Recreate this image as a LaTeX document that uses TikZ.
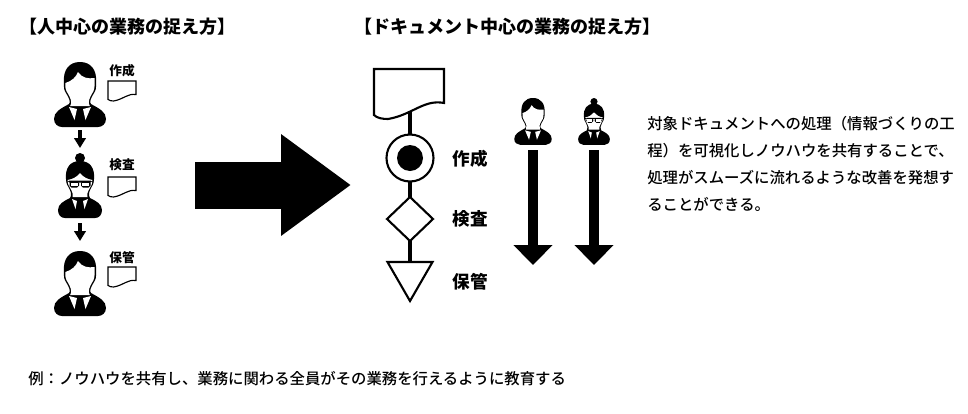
\documentclass[tikz,border=0pt]{standalone}
\usepackage{fontspec}
\setmainfont{Noto Sans CJK JP}
\newfontfamily\midfont{Noto Sans CJK JP Medium}
\usepackage{tikz}
\usetikzlibrary{positioning, arrows.meta, shapes.geometric}
\tikzset{
 title/.style={font=\fontsize{10.25pt}{12pt}\bfseries, anchor=west, inner sep=0pt},
 smalltag/.style={font=\fontsize{7.2pt}{9pt}\bfseries, inner sep=0pt},
 steptag/.style={font=\fontsize{10pt}{12pt}\bfseries, inner sep=0pt},
 bodytext/.style={font=\fontsize{8.75pt}{15.3pt}\selectfont\midfont, anchor=north west, align=left, inner sep=0pt},
 flowline/.style={line width=2.6pt},
 flowshape/.style={draw, line width=1.2pt, fill=white, inner sep=0pt, outer sep=0pt},
 smallarrow/.style={line width=2.7pt, -{Triangle[length=.2cm,width=.23cm]}},
 longarrow/.style={line width=6.2pt, -{Triangle[length=.4cm,width=.76cm]}},
 bigarrow/.style={line width=.94cm, -{Triangle[length=1.4cm,width=1.94cm]}},
 sheet/.pic={
  \path[fill=white, draw=black, line width=\pgfkeysvalueof{/tikz/sheetline}]
   (0,0) -- (70,0) -- (70,34) .. controls (50,30) and (38,46) .. (14,50) .. controls (8,50) and (3,49) .. (0,46) -- cycle;
 },
 sheetline/.initial=1.2pt,
 manicon/.pic={
  \fill (0,0) .. controls (11,0) and (17,8) .. (16,20) .. controls (16.5,26) and (15.5,29) .. (14,31)
   .. controls (11,36) and (9,40) .. (11,42) .. controls (20,47) and (26,50) .. (26,57)
   .. controls (26,62) and (22,65) .. (18,65) -- (-18,65) .. controls (-22,65) and (-26,62) .. (-26,57)
   .. controls (-26,50) and (-20,47) .. (-11,42) .. controls (-9,40) and (-11,36) .. (-14,31)
   .. controls (-15.5,29) and (-16.5,26) .. (-16,20) .. controls (-17,8) and (-11,0) .. (0,0) -- cycle;
  \fill[white] (-14.6,21) .. controls (-8,19) and (-4,15) .. (-2,10) .. controls (2,16) and (8,17) .. (14.6,16)
   .. controls (15.2,25) and (14,29) .. (12.4,31) .. controls (9.5,36) and (7.5,40) .. (9.8,44)
   -- (-9.8,44) .. controls (-7.5,40) and (-9.5,36) .. (-12.4,31) .. controls (-14,29) and (-15.2,25) .. (-14.6,21) -- cycle;
  \fill[white] (-11,45) -- (-3,47) -- (-5.5,58) -- cycle;
  \fill[white] (11,45) -- (3,47) -- (5.5,58) -- cycle;
 },
 womanicon/.pic={
  \fill (0,5) circle [radius=5];
  \fill (0,8) .. controls (10,8) and (15,15) .. (14,26) .. controls (14,31) and (12,33) .. (11,35)
   .. controls (9,39) and (8,42) .. (10,45) .. controls (16,48) and (22,51) .. (22,57)
   .. controls (22,62) and (19,65) .. (15,65) -- (-15,65) .. controls (-19,65) and (-22,62) .. (-22,57)
   .. controls (-22,51) and (-16,48) .. (-10,45) .. controls (-8,42) and (-9,39) .. (-11,35)
   .. controls (-12,33) and (-14,31) .. (-14,26) .. controls (-15,15) and (-10,8) .. (0,8) -- cycle;
  \fill[white] (-12.4,27) .. controls (-7,26) and (-3,24) .. (0,20) .. controls (3,24) and (7,26) .. (12.4,27)
   .. controls (12.4,31) and (11,33) .. (9.8,35) .. controls (7.5,39) and (6.5,42) .. (7.5,44)
   -- (-7.5,44) .. controls (-6.5,42) and (-7.5,39) .. (-9.8,35) .. controls (-11,33) and (-12.4,31) .. (-12.4,27) -- cycle;
  \fill[rounded corners=1] (-12.5,27.5) rectangle (12.5,29.5);
  \fill[rounded corners=1] (-10.5,28) rectangle (-1,34.5);
  \fill[rounded corners=1] (1,28) rectangle (10.5,34.5);
  \fill[white] (-9.2,29.5) rectangle (-2.2,33.2);
  \fill[white] (2.2,29.5) rectangle (9.2,33.2);
  \fill[white] (-8,46) -- (-3,48) -- (-4.5,56) -- cycle;
  \fill[white] (8,46) -- (3,48) -- (4.5,56) -- cycle;
 },
 necktie/.pic={
  \fill (-3,46) -- (3,46) -- (1.8,50) -- (3.2,60) -- (0,64) -- (-3.2,60) -- (-1.8,50) -- cycle;
 },
}

\begin{document}
\begin{tikzpicture}[x=0.02cm,y=-0.02cm]
 \useasboundingbox (0,0) rectangle (968,413);
 % left column
 \node[title] (titlePerson) at (19,27) {【人中心の業務の捉え方】};
 \pic at (80,62) {manicon};
 \pic at (80,62) {necktie};
 \pic at (80,153) {womanicon};
 \pic at (80,153) {necktie};
 \pic at (80,251) {manicon};
 \pic at (80,251) {necktie};
 \pic[scale=0.4, sheetline=.65pt] at (108,81) {sheet};
 \pic[scale=0.4, sheetline=.65pt] at (108,177) {sheet};
 \pic[scale=0.4, sheetline=.65pt] at (108,267) {sheet};
 \node[smalltag] (tagMake) at (122,71) {作成};
 \node[smalltag] (tagCheck) at (122,165) {検査};
 \node[smalltag] (tagKeep) at (122,258) {保管};
 \coordinate (downAtop) at (80,130);
 \coordinate (downAend) at (80,148);
 \coordinate (downBtop) at (80,223);
 \coordinate (downBend) at (80,241);
 \draw[smallarrow] (downAtop) -- (downAend);
 \draw[smallarrow] (downBtop) -- (downBend);
 % big arrow
 \coordinate (bigStart) at (195,185);
 \coordinate (bigEnd) at (351,185);
 \draw[bigarrow] (bigStart) -- (bigEnd);
 % flow
 \node[title] (titleDoc) at (354,27) {【ドキュメント中心の業務の捉え方】};
 \coordinate (sheetEnd) at (410,105);
 \node[flowshape, circle, minimum size=.94cm] (make) at (410,158) {};
 \node[flowshape, diamond, minimum width=.92cm, minimum height=.88cm] (check) at (410,219) {};
 \node[flowshape, isosceles triangle, shape border rotate=-90, isosceles triangle stretches,
  minimum width=.9cm, minimum height=.78cm, anchor=apex] (keep) at (410,301) {};
 \draw[flowline] (sheetEnd) -- (make);
 \draw[flowline] (make) -- (check);
 \draw[flowline] (check) -- (keep);
 \pic at (374,69) {sheet};
 \fill (make) circle [radius=13];
 \node[steptag] (stepMake) at (470,159) {作成};
 \node[steptag] (stepCheck) at (470,219) {検査};
 \node[steptag] (stepKeep) at (470,282) {保管};
 % people on the right
 \pic[scale=0.72] at (533,98) {manicon};
 \pic[scale=0.72] at (533,98) {necktie};
 \pic[scale=0.72] at (594,98) {womanicon};
 \pic[scale=0.72] at (594,98) {necktie};
 \coordinate (manTop) at (533,150);
 \coordinate (manEnd) at (533,265);
 \coordinate (womanTop) at (594,150);
 \coordinate (womanEnd) at (594,265);
 \draw[longarrow] (manTop) -- (manEnd);
 \draw[longarrow] (womanTop) -- (womanEnd);
 % texts
 \node[bodytext] (note) at (647,116) {対象ドキュメントへの処理（情報づくりの工\\程）を可視化しノウハウを共有することで、\\処理がスムーズに流れるような改善を発想す\\ることができる。};
 \node[bodytext, anchor=west, font=\fontsize{8.75pt}{10pt}\selectfont\midfont] (example) at (28,379) {例：ノウハウを共有し、業務に関わる全員がその業務を行えるように教育する};
\end{tikzpicture}
\end{document}
